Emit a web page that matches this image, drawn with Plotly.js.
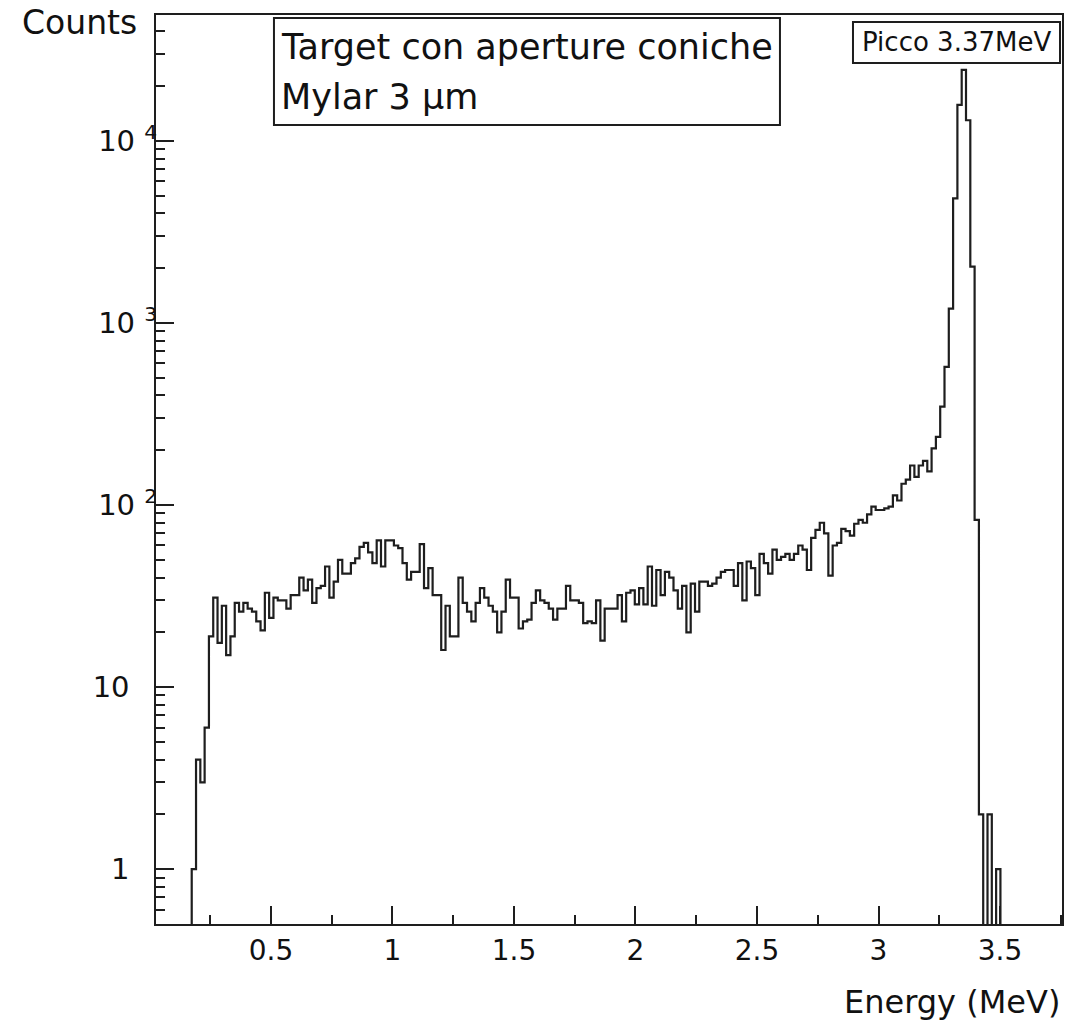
<!DOCTYPE html>
<html>
<head>
<meta charset="utf-8">
<script src="https://cdn.plot.ly/plotly-3.0.1.min.js"></script>
<style>
  html, body { margin: 0; padding: 0; background: #ffffff; }
  #chart { width: 1074px; height: 1025px; }
</style>
</head>
<body>
<div id="chart"></div>
<script>
// ---- Histogram binning (MeV) ----
const energyStart = 0.174;   // lower edge of first filled bin
const binWidth = 0.0177;     // bin width

// ---- Counts per bin ----
const counts = [
  1, 4, 3, 6, 19, 31, 17.5, 28, 15, 19,
  29, 26, 29, 27, 26, 23, 20.5, 33, 24, 31,
  30, 30, 27, 32, 32, 40, 34, 39, 29, 35,
  36, 46, 31, 38, 50, 42, 42, 48, 51, 59,
  62, 55, 48, 64, 46, 64, 64, 60, 58, 48,
  39, 43, 43, 61, 35, 45, 32, 32, 16, 28,
  19, 19, 40, 29, 26, 23, 29, 35, 31, 28,
  26, 20, 26, 39, 31, 31, 21, 23, 23.5, 29,
  34, 30, 29, 27, 23.5, 27, 27, 36, 30, 30,
  29, 22.5, 23, 22.5, 30, 18, 27, 27, 27, 32,
  23, 33, 34, 28.5, 35, 28.5, 46, 28, 44, 32,
  43, 40, 34, 27, 36, 20, 37, 26, 38, 38,
  36, 37, 40, 43, 44, 44, 36, 48, 30, 49,
  45, 32, 54, 48, 42, 57, 50, 52, 54, 50,
  54, 60, 57, 44, 66, 73, 80, 70, 41, 60,
  62, 74, 72, 68, 79, 83, 80, 89, 98, 94,
  94, 96, 98, 113, 106, 131, 138, 165, 143, 165,
  175, 153, 205, 237, 347, 575, 1200, 4840, 15800, 24560,
  13000, 2040, 83, 2, 0, 2, 0, 1
];

// ---- Axis ticks ----
const xTickVals = [0.5, 1, 1.5, 2, 2.5, 3, 3.5];
const xTickText = ['0.5', '1', '1.5', '2', '2.5', '3', '3.5'];
const yTickVals = [1, 10, 100, 1000, 10000];
const yTickText = ['1\u00a0\u00a0\u00a0', '10\u00a0\u00a0\u00a0', '10 <sup>2</sup>', '10 <sup>3</sup>', '10 <sup>4</sup>'];

// ---- Texts ----
const xTitle = 'Energy (MeV)';
const yTitle = 'Counts';
const boxLine1 = 'Target con aperture coniche';
const boxLine2 = 'Mylar 3 \u03bcm';
const peakLabel = 'Picco 3.37MeV';

// ---- Build step outline (ROOT-style histogram) ----
const FLOOR = 1e-3; // empty bins are drawn below the visible range
const hx = [], hy = [];
hx.push(energyStart); hy.push(FLOOR);
for (let i = 0; i < counts.length; i++) {
  hx.push(energyStart + i * binWidth);
  hy.push(counts[i] > 0 ? counts[i] : FLOOR);
}
hx.push(energyStart + counts.length * binWidth);
hy.push(FLOOR);

const xMinor = [];
for (let v = 0.25; v < 3.76; v += 0.5) xMinor.push(+v.toFixed(2));
const yMinor = [0.6, 0.7, 0.8, 0.9];
[1, 10, 100, 1000].forEach(d => { for (let k = 2; k <= 9; k++) yMinor.push(k * d); });
yMinor.push(20000, 30000, 40000);

const FONT = 'DejaVu Sans, Liberation Sans, sans-serif';
const INK = '#1e1e1e';

const trace = {
  type: 'scatter',
  mode: 'lines',
  x: hx,
  y: hy,
  line: { shape: 'hv', color: INK, width: 2.2 },
  hoverinfo: 'skip',
  showlegend: false
};

const layout = {
  width: 1074,
  height: 1025,
  margin: { l: 156, r: 12, t: 15, b: 101 },
  paper_bgcolor: '#ffffff',
  plot_bgcolor: '#ffffff',
  showlegend: false,
  font: { family: FONT, color: '#111', size: 27 },
  xaxis: {
    type: 'linear',
    range: [0.027, 3.755],
    showgrid: false,
    zeroline: false,
    showline: true,
    mirror: true,
    linecolor: INK,
    linewidth: 2,
    ticks: 'inside',
    ticklen: 18,
    tickwidth: 2,
    tickcolor: INK,
    tickmode: 'array',
    tickvals: xTickVals,
    ticktext: xTickText,
    tickfont: { family: FONT, size: 28, color: '#111' },
    minor: { tickmode: 'array', tickvals: xMinor, ticks: 'inside', ticklen: 9, tickwidth: 2, tickcolor: INK, showgrid: false }
  },
  yaxis: {
    type: 'log',
    range: [Math.log10(0.5), 4.692],
    showgrid: false,
    zeroline: false,
    showline: true,
    mirror: true,
    linecolor: INK,
    linewidth: 2,
    ticks: 'inside',
    ticklen: 18,
    tickwidth: 2,
    tickcolor: INK,
    tickmode: 'array',
    tickvals: yTickVals,
    ticktext: yTickText,
    ticklabelstandoff: -9,
    tickfont: { family: FONT, size: 29, color: '#111' },
    minor: { tickmode: 'array', tickvals: yMinor, ticks: 'inside', ticklen: 9, tickwidth: 2, tickcolor: INK, showgrid: false }
  },
  shapes: [
    { type: 'rect', xref: 'paper', yref: 'paper', x0: 0.1302, x1: 0.6887, y0: 0.879, y1: 0.9967,
      line: { color: INK, width: 2 }, fillcolor: '#ffffff', layer: 'above' },
    { type: 'rect', xref: 'paper', yref: 'paper', x0: 0.7693, x1: 0.9978, y0: 0.9472, y1: 0.9923,
      line: { color: INK, width: 2 }, fillcolor: '#ffffff', layer: 'above' }
  ],
  annotations: [
    { text: boxLine1, xref: 'paper', yref: 'paper', x: 0.1355, y: 0.9645, xanchor: 'left', yanchor: 'middle',
      showarrow: false, font: { family: FONT, size: 35, color: '#111' } },
    { text: boxLine2, xref: 'paper', yref: 'paper', x: 0.1355, y: 0.910, xanchor: 'left', yanchor: 'middle',
      showarrow: false, font: { family: FONT, size: 35, color: '#111' } },
    { text: peakLabel, xref: 'paper', yref: 'paper', x: 0.8833, y: 0.9703, xanchor: 'center', yanchor: 'middle',
      showarrow: false, font: { family: FONT, size: 26, color: '#111' } },
    { text: yTitle, xref: 'paper', yref: 'paper', x: -0.150, y: 0.9912, xanchor: 'left', yanchor: 'middle',
      showarrow: false, font: { family: FONT, size: 33, color: '#111' } },
    { text: xTitle, xref: 'paper', yref: 'paper', x: 1.0, y: -0.0858, xanchor: 'right', yanchor: 'middle',
      showarrow: false, font: { family: FONT, size: 32, color: '#111' } }
  ]
};

Plotly.newPlot('chart', [trace], layout, { staticPlot: true, displayModeBar: false });
</script>
</body>
</html>
